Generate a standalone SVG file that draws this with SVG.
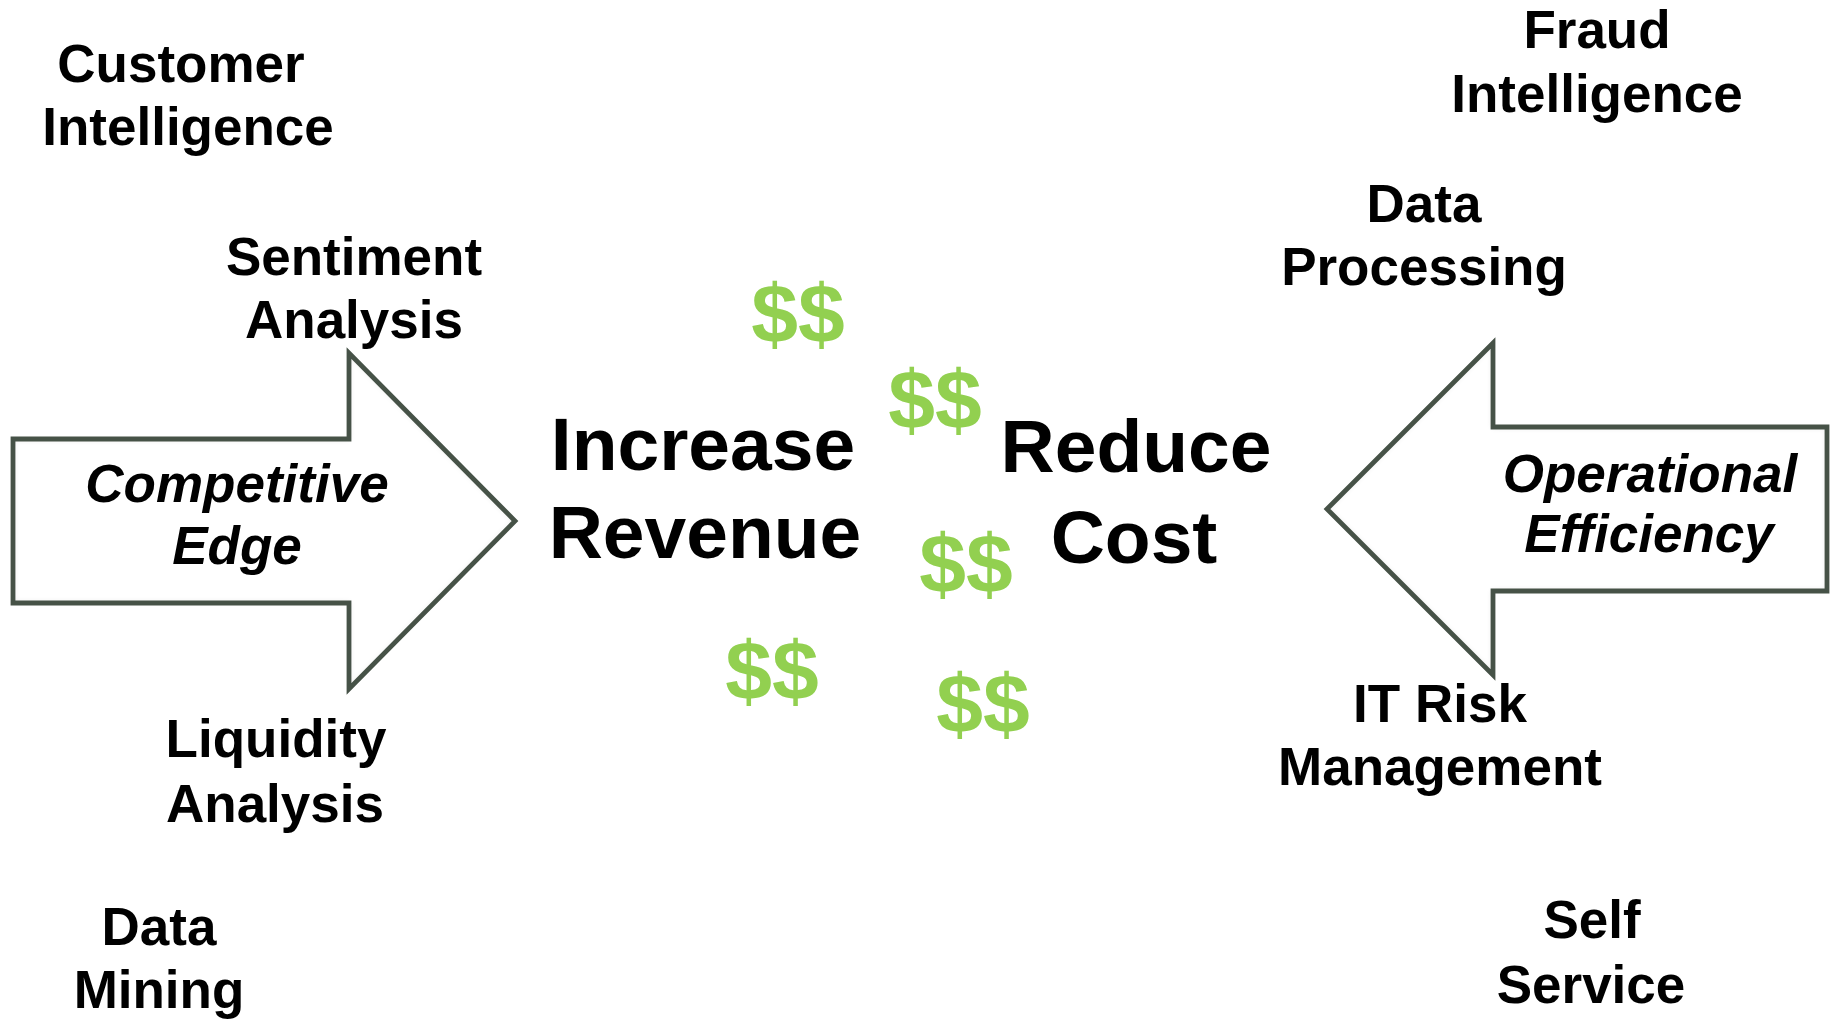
<svg xmlns="http://www.w3.org/2000/svg" width="1831" height="1021" viewBox="0 0 1831 1021">
  <style>
    .lbl { font-family: "Liberation Sans", Arial, sans-serif; font-weight: bold; font-size: 53px; fill: #000; text-anchor: middle; }
    .ital { font-style: italic; }
    .big { font-size: 75px; }
    .usd { font-family: "Liberation Sans", Arial, sans-serif; font-weight: bold; font-size: 84px; fill: #92d050; text-anchor: middle; }
    .arrowFill { fill: #ffffff; filter: url(#innerGlow); }
    .arrowLine { fill: none; stroke: #465247; stroke-width: 4.8; stroke-linejoin: miter; }
  </style>
  <defs>
    <filter id="innerGlow" x="-5%" y="-5%" width="110%" height="110%">
      <feFlood flood-color="#000" flood-opacity="0.28" result="f"/>
      <feComposite in="f" in2="SourceAlpha" operator="out" result="outside"/>
      <feGaussianBlur in="outside" stdDeviation="3" result="blur"/>
      <feComposite in="blur" in2="SourceAlpha" operator="in" result="inner"/>
      <feMerge><feMergeNode in="SourceGraphic"/><feMergeNode in="inner"/></feMerge>
    </filter>
  </defs>
  <rect width="1831" height="1021" fill="#ffffff"/>

  <g id="connectors"></g>

  <g id="arrow-competitive-edge">
    <polygon class="arrowFill" points="13,439 349,439 349,353 515,521 349,689 349,603 13,603"/>
    <polygon class="arrowLine" points="13,439 349,439 349,353 515,521 349,689 349,603 13,603"/>
    <text class="lbl ital" x="237" y="502">Competitive</text>
    <text class="lbl ital" x="237" y="564">Edge</text>
  </g>

  <g id="arrow-operational-efficiency">
    <polygon class="arrowFill" points="1827,427 1493,427 1493,343 1327,509 1493,675 1493,591 1827,591"/>
    <polygon class="arrowLine" points="1827,427 1493,427 1493,343 1327,509 1493,675 1493,591 1827,591"/>
    <text class="lbl ital" x="1650" y="492">Operational</text>
    <text class="lbl ital" x="1649" y="552">Efficiency</text>
  </g>

  <g id="increase-revenue">
    <text class="lbl big" x="703" y="470">Increase</text>
    <text class="lbl big" x="705" y="558">Revenue</text>
  </g>

  <g id="reduce-cost">
    <text class="lbl big" x="1136" y="472">Reduce</text>
    <text class="lbl big" x="1134" y="563">Cost</text>
  </g>

  <g id="dollars">
    <text class="usd" x="798" y="343">$$</text>
    <text class="usd" x="935" y="429">$$</text>
    <text class="usd" x="966" y="593">$$</text>
    <text class="usd" x="772" y="700">$$</text>
    <text class="usd" x="983" y="733">$$</text>
  </g>

  <g id="customer-intelligence">
    <text class="lbl" x="181" y="82">Customer</text>
    <text class="lbl" x="188" y="145">Intelligence</text>
  </g>

  <g id="sentiment-analysis">
    <text class="lbl" x="354" y="275">Sentiment</text>
    <text class="lbl" x="354" y="338">Analysis</text>
  </g>

  <g id="liquidity-analysis">
    <text class="lbl" x="276" y="757">Liquidity</text>
    <text class="lbl" x="275" y="822">Analysis</text>
  </g>

  <g id="data-mining">
    <text class="lbl" x="159" y="945">Data</text>
    <text class="lbl" x="159" y="1008">Mining</text>
  </g>

  <g id="fraud-intelligence">
    <text class="lbl" x="1597" y="48">Fraud</text>
    <text class="lbl" x="1597" y="112">Intelligence</text>
  </g>

  <g id="data-processing">
    <text class="lbl" x="1424" y="222">Data</text>
    <text class="lbl" x="1424" y="285">Processing</text>
  </g>

  <g id="it-risk-management">
    <text class="lbl" x="1440" y="722">IT Risk</text>
    <text class="lbl" x="1440" y="785">Management</text>
  </g>

  <g id="self-service">
    <text class="lbl" x="1592" y="938">Self</text>
    <text class="lbl" x="1591" y="1003">Service</text>
  </g>
</svg>
